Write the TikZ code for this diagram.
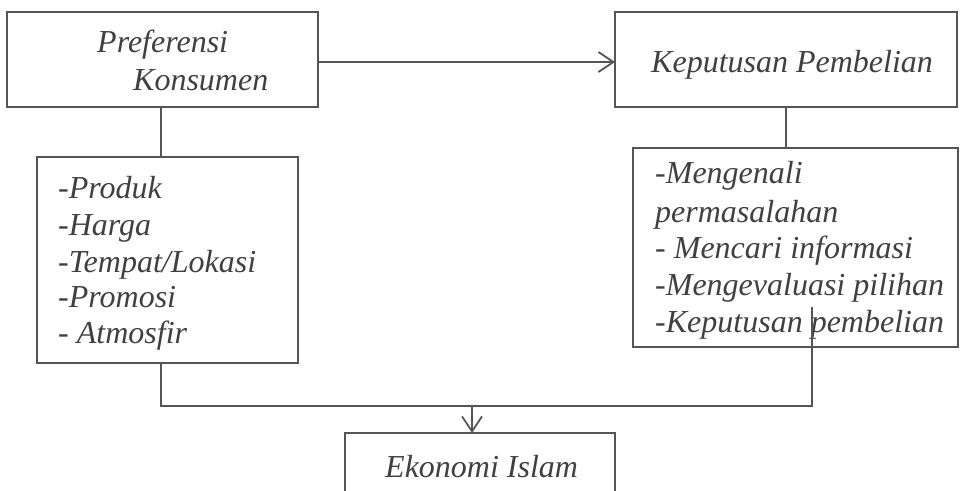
\documentclass[tikz,border=0pt]{standalone}
\usepackage{fontspec}
\setmainfont{Liberation Serif}
\usetikzlibrary{arrows.meta}
\definecolor{ln}{HTML}{555555}
\definecolor{tx}{HTML}{404040}
\begin{document}
\begin{tikzpicture}[x=1pt,y=-1pt,
  box/.style={draw=ln,line width=1.6pt,inner sep=0pt,outer sep=0pt,anchor=north west},
  txt/.style={text=tx,font=\fontsize{32}{37}\selectfont\itshape,inner sep=0pt,anchor=base west},
  conn/.style={draw=ln,line width=1.8pt},
  tip/.style={-{Straight Barb[length=15pt,width=20pt,line width=1.8pt]}}]
\useasboundingbox (0,0) rectangle (960,490);
\clip (0,0) rectangle (960,490);
% boxes
\node[box,minimum width=311pt,minimum height=95pt] (pk) at (7,12) {};
\node[box,minimum width=342pt,minimum height=95pt] (kp) at (615,12) {};
\node[box,minimum width=261pt,minimum height=206pt] (atr) at (37,157) {};
\node[box,minimum width=325pt,minimum height=199pt] (prs) at (633,148) {};
\node[box,minimum width=270pt,minimum height=80pt] (ei) at (345,433) {};
% texts
\node[txt] (t1) at (97,52) {Preferensi};
\node[txt] (t2) at (133,90) {Konsumen};
\node[txt] (t3) at (651,72) {Keputusan Pembelian};
\node[txt] (a1) at (58,198) {-Produk};
\node[txt] (a2) at (58,235) {-Harga};
\node[txt] (a3) at (58,272) {-Tempat/Lokasi};
\node[txt] (a4) at (58,307) {-Promosi};
\node[txt] (a5) at (58,343) {- Atmosfir};
\node[txt] (b1) at (655,183) {-Mengenali};
\node[txt] (b2) at (655,222) {permasalahan};
\node[txt] (b3) at (655,258) {- Mencari informasi};
\node[txt] (b4) at (655,295) {-Mengevaluasi pilihan};
\node[txt] (b5) at (655,332) {-Keputusan pembelian};
\node[txt] (e1) at (385,477) {Ekonomi Islam};
% connectors
\coordinate (j) at (472,406);
\coordinate (rs) at (812,307);
\coordinate (ls) at ([xshift=-1.5pt]pk.south);
\draw[conn,tip] ([yshift=-2.5pt]pk.east) -- ([yshift=-2.5pt]kp.west);
\draw[conn] (ls) -- (ls |- atr.north);
\draw[conn] (kp.south) -- (kp.south |- prs.north);
\draw[conn] (ls |- atr.south) -- (ls |- j) -- (rs |- j) -- (rs);
\draw[conn,tip] (j) -- (j |- ei.north);
\end{tikzpicture}
\end{document}
